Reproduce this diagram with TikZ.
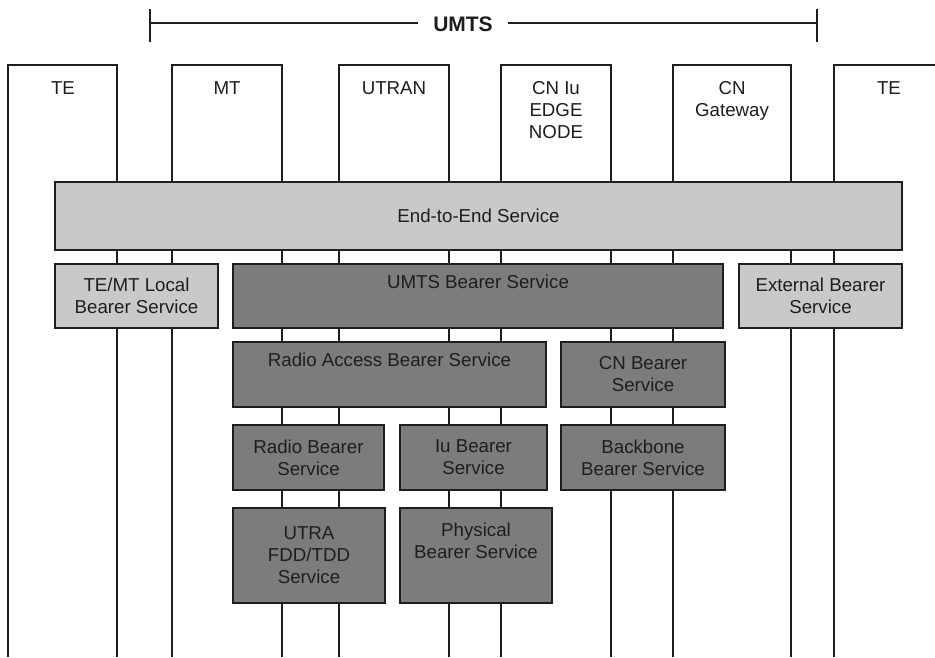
\documentclass[tikz,border=0pt]{standalone}
\usepackage{fontspec}
\setmainfont{Liberation Sans}
\definecolor{lightfill}{RGB}{201,201,201}
\definecolor{darkfill}{RGB}{124,124,124}
\definecolor{ink}{RGB}{30,30,30}
\newcommand{\svcfont}{\fontsize{18.7}{22}\selectfont}
\begin{document}
\begin{tikzpicture}[x=1pt,y=-1pt,
  colline/.style={draw=ink, line width=1.2pt},
  svc/.style={draw=ink, line width=1.5pt, text=ink, align=center,
              font=\svcfont, inner sep=0pt},
  lightsvc/.style={svc, fill=lightfill},
  darksvc/.style={svc, fill=darkfill},
  head/.style={text=ink, align=center, font=\svcfont, inner sep=0pt, anchor=north},
]
\useasboundingbox[fill=white] (0,0) rectangle (935,657);

% UMTS span marker
\node[font=\fontsize{21}{24}\selectfont\bfseries, text=ink, inner xsep=15pt, inner ysep=2pt] (umts) at (463,24) {UMTS};
\coordinate (umtsL) at (150,23);
\coordinate (umtsR) at (817,23);
\draw[ink, line width=2.6pt] (umts.west |- umtsL) -- (umtsL);
\draw[ink, line width=2.6pt] (umts.east |- umtsR) -- (umtsR);
\draw[ink, line width=2.6pt] (150,9) -- (150,42);
\draw[ink, line width=2.6pt] (817,9) -- (817,42);

% network element columns (open at the bottom)
\draw[colline] (8,657) |- (117,65) -- (117,657);
\draw[colline] (172,657) |- (282,65) -- (282,657);
\draw[colline] (339,657) |- (449,65) -- (449,657);
\draw[colline] (501,657) |- (611,65) -- (611,657);
\draw[colline] (673,657) |- (791,65) -- (791,657);
\draw[colline] (834,657) |- (936,65);

% column headings
\node[head] (te1)  at (63,81.5)  {TE};
\node[head] (mt)   at (227,81.5) {MT};
\node[head] (utran) at (394,81.5) {UTRAN};
\node[head] (cniu) at (556,81.5) {CN Iu\\EDGE\\NODE};
\node[head] (cngw) at (732,81.5) {CN\\Gateway};
\node[head] (te2)  at (889,81.5) {TE};

% bearer services
\node[lightsvc, minimum width=847, minimum height=68] (e2e) at (478.5,216) {End-to-End Service};

\node[lightsvc, minimum width=163, minimum height=64] (local) at (136.5,296) {TE/MT Local\\Bearer Service};
\node[darksvc, minimum width=490, minimum height=64] (umtsb) at (478,296) {UMTS Bearer Service\\\strut};
\node[lightsvc, minimum width=163, minimum height=64] (ext) at (820.5,296) {External Bearer\\Service};

\node[darksvc, minimum width=313, minimum height=65] (rab) at (389.5,374.5) {Radio Access Bearer Service\\\strut};
\node[darksvc, minimum width=164, minimum height=65] (cnb) at (643,374.5) {CN Bearer\\Service};

\node[darksvc, minimum width=151, minimum height=65] (rb) at (308.5,457.5) {Radio Bearer\\Service};
\node[darksvc, minimum width=147, minimum height=65] (iub) at (473.5,457.5) {Iu Bearer\\Service};
\node[darksvc, minimum width=164, minimum height=65] (bbb) at (643,457.5) {Backbone\\Bearer Service};

\node[darksvc, minimum width=152, minimum height=95] (utra) at (309,555.5) {UTRA\\FDD/TDD\\Service};
\node[darksvc, minimum width=152, minimum height=95] (phy) at (476,555.5) {Physical\\Bearer Service\\\strut};
\end{tikzpicture}
\end{document}
